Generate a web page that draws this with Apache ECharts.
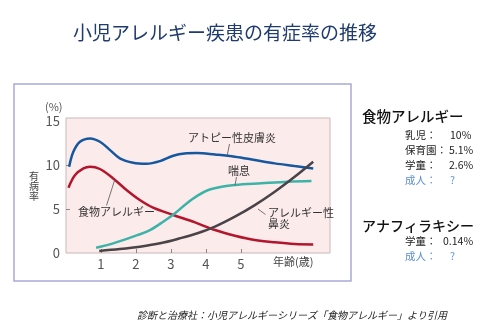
<!DOCTYPE html>
<html>
<head>
<meta charset="utf-8">
<script src="https://cdn.jsdelivr.net/npm/echarts@6/dist/echarts.min.js"></script>
<style>
html,body{margin:0;padding:0;background:#fff;}
#c{width:500px;height:333px;}
</style>
</head>
<body>
<div id="c"></div>
<script>
// ---- data ----
const xTickLabels = [1, 2, 3, 4, 5];
const yTickLabels = [0, 5, 10, 15];

const atopyAges   = [0.09, 0.21, 0.4, 0.69, 0.97, 1.26, 1.54, 1.92, 2.3, 2.69, 3.07, 3.45, 3.75, 4.26, 4.83, 5.4, 5.97, 6.54, 7.07];
const atopyValues = [9.8, 11.5, 12.65, 13.03, 12.65, 11.7, 10.76, 10.26, 10.15, 10.45, 11.06, 11.33, 11.38, 11.2, 10.95, 10.57, 10.19, 9.89, 9.62];

const foodAges   = [0.07, 0.26, 0.5, 0.69, 0.97, 1.35, 1.73, 2.11, 2.49, 3.07, 3.69, 4.26, 4.83, 5.4, 5.97, 6.54, 7.07];
const foodValues = [7.42, 8.86, 9.62, 9.81, 9.55, 8.48, 7.16, 6.02, 5.15, 4.32, 3.48, 2.61, 1.97, 1.48, 1.21, 1.02, 0.98];

const asthmaAges   = [0.86, 1.35, 1.92, 2.4, 2.78, 3.11, 3.45, 3.75, 4.07, 4.45, 4.83, 5.59, 6.35, 7.02];
const asthmaValues = [0.6, 1.1, 1.86, 2.61, 3.56, 4.5, 5.64, 6.5, 7.16, 7.53, 7.73, 7.92, 8.1, 8.18];

const rhinitisAges   = [0.95, 1.54, 2.11, 2.69, 3.26, 3.76, 4.26, 4.83, 5.4, 5.97, 6.54, 7.07];
const rhinitisValues = [0.23, 0.45, 0.72, 1.1, 1.67, 2.25, 3.0, 4.13, 5.45, 6.97, 8.67, 10.38];

const seriesNames = ['アトピー性皮膚炎', '食物アレルギー', '喘息', 'アレルギー性鼻炎'];

// ---- chart ----
const FONT = "'Noto Sans CJK JP', 'Noto Sans', sans-serif";
const pairs = (xs, ys) => xs.map((x, i) => [x, ys[i]]);

const chart = echarts.init(document.getElementById('c'), null, {renderer: 'canvas'});

function lineSeries(name, xs, ys, color) {
  return {
    name: name, type: 'line', data: pairs(xs, ys),
    smooth: 0.35, showSymbol: false, symbol: 'none',
    lineStyle: {color: color, width: 2.5},
    z: 3
  };
}

const txt = (x, y, s, opt) => Object.assign({
  type: 'text', x: x, y: y,
  style: Object.assign({text: s, fontFamily: FONT, fontSize: 11, fill: '#333', verticalAlign: 'middle'}, opt || {})
});
const seg = (x1, y1, x2, y2) => ({
  type: 'line', shape: {x1: x1, y1: y1, x2: x2, y2: y2},
  style: {stroke: '#555', lineWidth: 0.8}, z: 10
});

chart.setOption({
  animation: false,
  backgroundColor: '#ffffff',
  grid: {
    left: 66, top: 118, width: 264, height: 135,
    show: true, backgroundColor: '#fcebeb', borderColor: '#c9b9b9', borderWidth: 1
  },
  xAxis: {
    type: 'value', min: 0, max: 7.55, interval: 1,
    axisLine: {show: false},
    splitLine: {show: false},
    axisTick: {show: true, inside: true, length: 4, lineStyle: {color: '#888'}, customValues: xTickLabels},
    axisLabel: {customValues: xTickLabels, color: '#555', fontSize: 13, fontFamily: FONT, margin: 5}
  },
  yAxis: {
    type: 'value', min: 0, max: 15.35, interval: 5,
    axisLine: {show: false},
    splitLine: {show: false},
    axisTick: {show: true, inside: true, length: 4, lineStyle: {color: '#888'}, customValues: [5, 10]},
    axisLabel: {customValues: yTickLabels, color: '#555', fontSize: 13, fontFamily: FONT, margin: 6}
  },
  series: [
    lineSeries(seriesNames[0], atopyAges, atopyValues, '#15589f'),
    lineSeries(seriesNames[1], foodAges, foodValues, '#b3162c'),
    lineSeries(seriesNames[2], asthmaAges, asthmaValues, '#3db3a8'),
    lineSeries(seriesNames[3], rhinitisAges, rhinitisValues, '#4a4347')
  ],
  graphic: [
    // title
    txt(73, 33, '小児アレルギー疾患の有症率の推移', {fontSize: 19, fill: '#1f3b6f'}),
    // outer frame
    {type: 'rect', shape: {x: 14, y: 84, width: 337, height: 197},
     style: {fill: 'none', stroke: '#a9a9d6', lineWidth: 1.5}, z: 1},
    // axis captions
    txt(45, 107, '(%)', {fontSize: 11, fill: '#555'}),
    txt(29, 176, '有', {fontSize: 10, fill: '#444'}),
    txt(29, 186, '病', {fontSize: 10, fill: '#444'}),
    txt(29, 196, '率', {fontSize: 10, fill: '#444'}),
    txt(273, 262, '年齢(歳)', {fontSize: 11, fill: '#444'}),
    // series labels
    txt(188, 138, seriesNames[0], {fontSize: 11}),
    seg(227.3, 155, 229.5, 144),
    txt(228, 171, '喘息', {fontSize: 11}),
    seg(235, 185.5, 236.5, 177),
    txt(78, 212, seriesNames[1], {fontSize: 11}),
    seg(115, 179, 106.5, 205.5),
    txt(268, 213, 'アレルギー性', {fontSize: 11}),
    txt(268, 224, '鼻炎', {fontSize: 11}),
    seg(258, 209, 265.5, 214.5),
    // right-hand notes
    txt(362, 116, '食物アレルギー', {fontSize: 14.5, fill: '#111', fontWeight: 500}),
    txt(405, 135, '乳児：', {fontSize: 10.5, fill: '#222'}),
    txt(450, 135, '10%', {fontSize: 10.5, fill: '#222'}),
    txt(405, 150, '保育園：', {fontSize: 10.5, fill: '#222'}),
    txt(449, 150, '5.1%', {fontSize: 10.5, fill: '#222'}),
    txt(405, 165, '学童：', {fontSize: 10.5, fill: '#222'}),
    txt(449, 165, '2.6%', {fontSize: 10.5, fill: '#222'}),
    txt(405, 180, '成人：', {fontSize: 10.5, fill: '#5b8fd3'}),
    txt(450, 180, '?', {fontSize: 10.5, fill: '#5b8fd3'}),
    txt(362, 226, 'アナフィラキシー', {fontSize: 14, fill: '#111', fontWeight: 500}),
    txt(405, 241, '学童：', {fontSize: 10.5, fill: '#222'}),
    txt(443, 241, '0.14%', {fontSize: 10.5, fill: '#222'}),
    txt(405, 256, '成人：', {fontSize: 10.5, fill: '#5b8fd3'}),
    txt(450, 256, '?', {fontSize: 10.5, fill: '#5b8fd3'}),
    // source
    txt(137, 315, '診断と治療社：小児アレルギーシリーズ「食物アレルギー」より引用', {fontSize: 10, fill: '#222', fontStyle: 'italic'})
  ]
});
</script>
</body>
</html>
